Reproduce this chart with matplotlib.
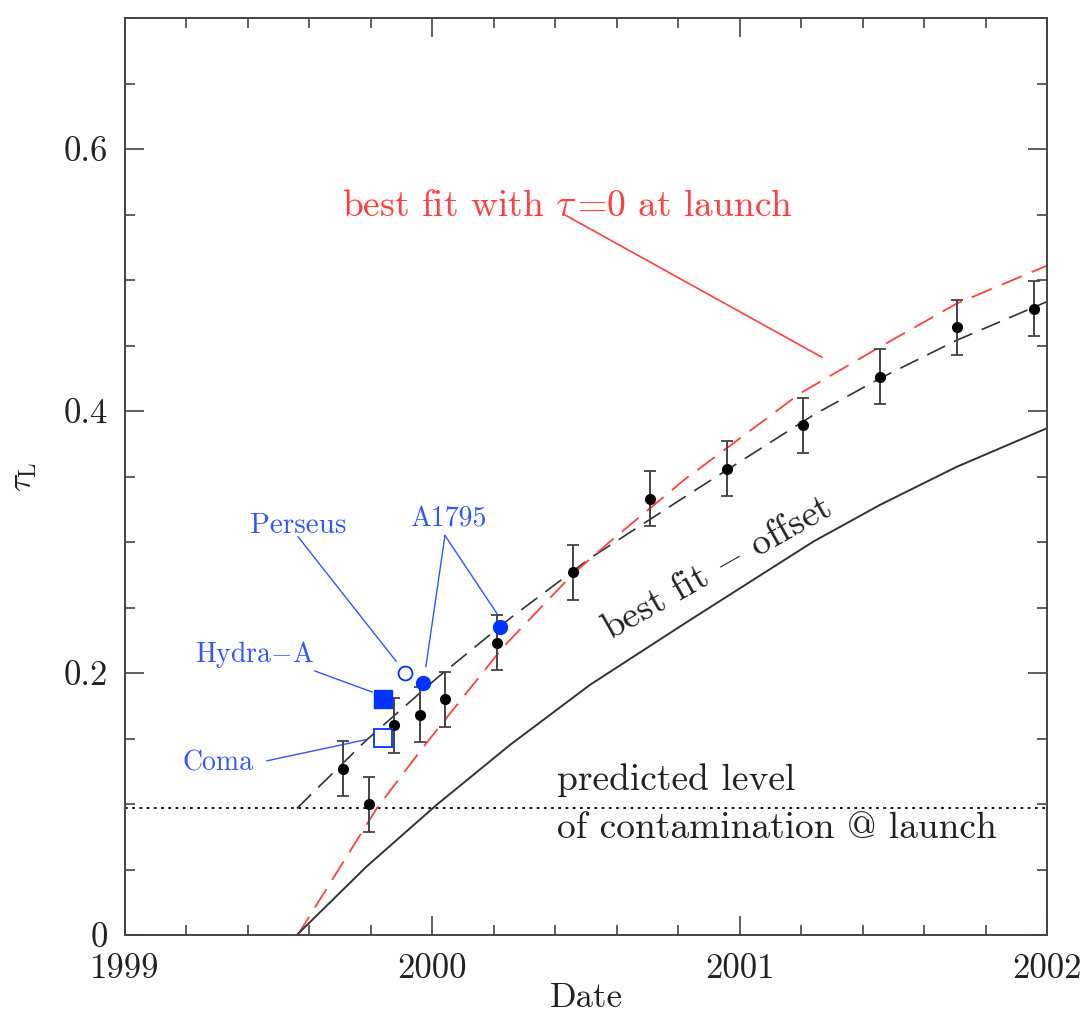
import matplotlib
matplotlib.use("Agg")
import matplotlib.pyplot as plt
from matplotlib.ticker import MultipleLocator, FixedLocator, FixedFormatter

plt.rcParams['font.family'] = ['cmr10', 'DejaVu Serif']
plt.rcParams['mathtext.fontset'] = 'cm'
plt.rcParams['axes.unicode_minus'] = False
plt.rcParams['axes.formatter.use_mathtext'] = True

# measured optical depth (black points)
dates = [1999.710, 1999.794, 1999.876, 1999.960, 2000.042, 2000.211, 2000.459,
         2000.708, 2000.960, 2001.207, 2001.457, 2001.706, 2001.956]
tau = [0.127, 0.100, 0.160, 0.168, 0.180, 0.223, 0.277,
       0.333, 0.356, 0.389, 0.426, 0.464, 0.478]
tauErr = [0.021, 0.021, 0.021, 0.021, 0.021, 0.021, 0.021,
          0.021, 0.021, 0.021, 0.021, 0.021, 0.021]

# cluster points
perseusX, perseusY = [1999.911], [0.2003]
a1795X, a1795Y = [1999.971, 2000.220], [0.1926, 0.2349]
hydraX, hydraY = [1999.841], [0.180]
comaX, comaY = [1999.841], [0.1506]

# fit curves
fitX = [1999.559, 1999.786, 2000.014, 2000.253, 2000.513, 2000.838,
        2001.240, 2001.457, 2001.706, 2002.0]
fitY = [0.0966, 0.1489, 0.196, 0.2418, 0.2876, 0.337,
        0.397, 0.425, 0.454, 0.4835]
offsetY = [0.0, 0.0523, 0.0994, 0.1452, 0.191, 0.2404,
           0.3004, 0.3284, 0.3574, 0.3869]
zeroX = [1999.562, 1999.819, 1999.971, 2000.231, 2000.459, 2000.584,
         2000.817, 2001.197, 2001.457, 2001.706, 2002.0]
zeroY = [0.0, 0.0967, 0.1437, 0.220, 0.276, 0.3015,
         0.347, 0.4135, 0.449, 0.482, 0.511]

predictedLevel = 0.097

xTicks = [1999, 2000, 2001, 2002]
xTickLabels = ['1999', '2000', '2001', '2002']
yTicks = [0, 0.2, 0.4, 0.6]
yTickLabels = ['0', '0.2', '0.4', '0.6']

fig = plt.figure(figsize=(10.91, 10.17), dpi=100)
ax = fig.add_axes([0.1146, 0.0806, 0.8451, 0.9017])

blue = '#0033ff'
blueText = '#3355ff'
red = '#ff4040'
ink = '#222222'

ax.axhline(predictedLevel, color='black', lw=1.3, ls=(0, (1.5, 2.5)))
ax.plot(fitX, fitY, color='#333333', lw=1.2, dashes=(12, 6))
ax.plot(zeroX, zeroY, color=red, lw=1.3, dashes=(12, 6))
ax.plot(fitX, offsetY, color='#333333', lw=1.4)

ax.errorbar(dates, tau, yerr=tauErr, fmt='o', color='black', ms=7,
            ecolor='#444444', elinewidth=1.4, capsize=4, capthick=1.3, zorder=4)

ax.plot(perseusX, perseusY, 'o', ms=10, mfc='white', mec=blue, mew=1.3, zorder=5)
ax.plot(a1795X, a1795Y, 'o', ms=10, color=blue, zorder=5)
ax.plot(hydraX, hydraY, 's', ms=13, color=blue, zorder=5)
ax.plot(comaX, comaY, 's', ms=13, mfc='white', mec=blue, mew=1.3, zorder=5)

# labels with pointer lines
ax.text(1999.563, 0.312, 'Perseus', color=blueText, fontsize=21, ha='center', va='center')
ax.plot([1999.563, 1999.882], [0.304, 0.209], color=blueText, lw=1)
ax.text(2000.051, 0.317, 'A1795', color=blueText, fontsize=20, ha='center', va='center')
ax.plot([2000.041, 1999.979], [0.305, 0.205], color=blueText, lw=1)
ax.plot([2000.041, 2000.214], [0.305, 0.244], color=blueText, lw=1)
ax.text(1999.423, 0.214, r'Hydra$-$A', color=blueText, fontsize=20, ha='center', va='center')
ax.plot([1999.618, 1999.804], [0.2015, 0.1855], color=blueText, lw=1)
ax.text(1999.303, 0.131, 'Coma', color=blueText, fontsize=20, ha='center', va='center')
ax.plot([1999.462, 1999.781], [0.133, 0.149], color=blueText, lw=1)

ax.text(2000.44, 0.5565, r'best fit with $\tau\,$=0 at launch', color=red,
        fontsize=27, ha='center', va='center')
ax.plot([2000.432, 2001.268], [0.5496, 0.441], color=red, lw=1.2)

ax.text(2000.926, 0.280, r'best fit $-$ offset', color=ink, fontsize=27,
        rotation=29.4, rotation_mode='anchor', ha='center', va='center')
ax.text(2000.406, 0.118, 'predicted level', color=ink, fontsize=27, va='center')
ax.text(2000.406, 0.0817, 'of contamination @ launch', color=ink, fontsize=27, va='center')

ax.set_xlim(1999, 2002)
ax.set_ylim(0, 0.7)
ax.xaxis.set_major_locator(FixedLocator(xTicks))
ax.xaxis.set_major_formatter(FixedFormatter(xTickLabels))
ax.xaxis.set_minor_locator(MultipleLocator(0.2))
ax.yaxis.set_major_locator(FixedLocator(yTicks))
ax.yaxis.set_major_formatter(FixedFormatter(yTickLabels))
ax.yaxis.set_minor_locator(MultipleLocator(0.05))
ax.tick_params(which='both', direction='in', top=True, right=True, colors='#444444',
               labelcolor=ink, labelsize=25, width=1.2)
ax.tick_params(which='major', length=14)
ax.tick_params(axis='x', which='major', pad=13)
ax.tick_params(axis='y', which='major', pad=12)
ax.tick_params(which='minor', length=7)
for s in ax.spines.values():
    s.set_color('#444444')
    s.set_linewidth(1.4)

ax.set_xlabel('Date', fontsize=25, color=ink, labelpad=-2)
ax.set_ylabel(r'$\tau_{\rm L}$', fontsize=24, color=ink, labelpad=18)

fig.savefig('out.png', dpi=100)
